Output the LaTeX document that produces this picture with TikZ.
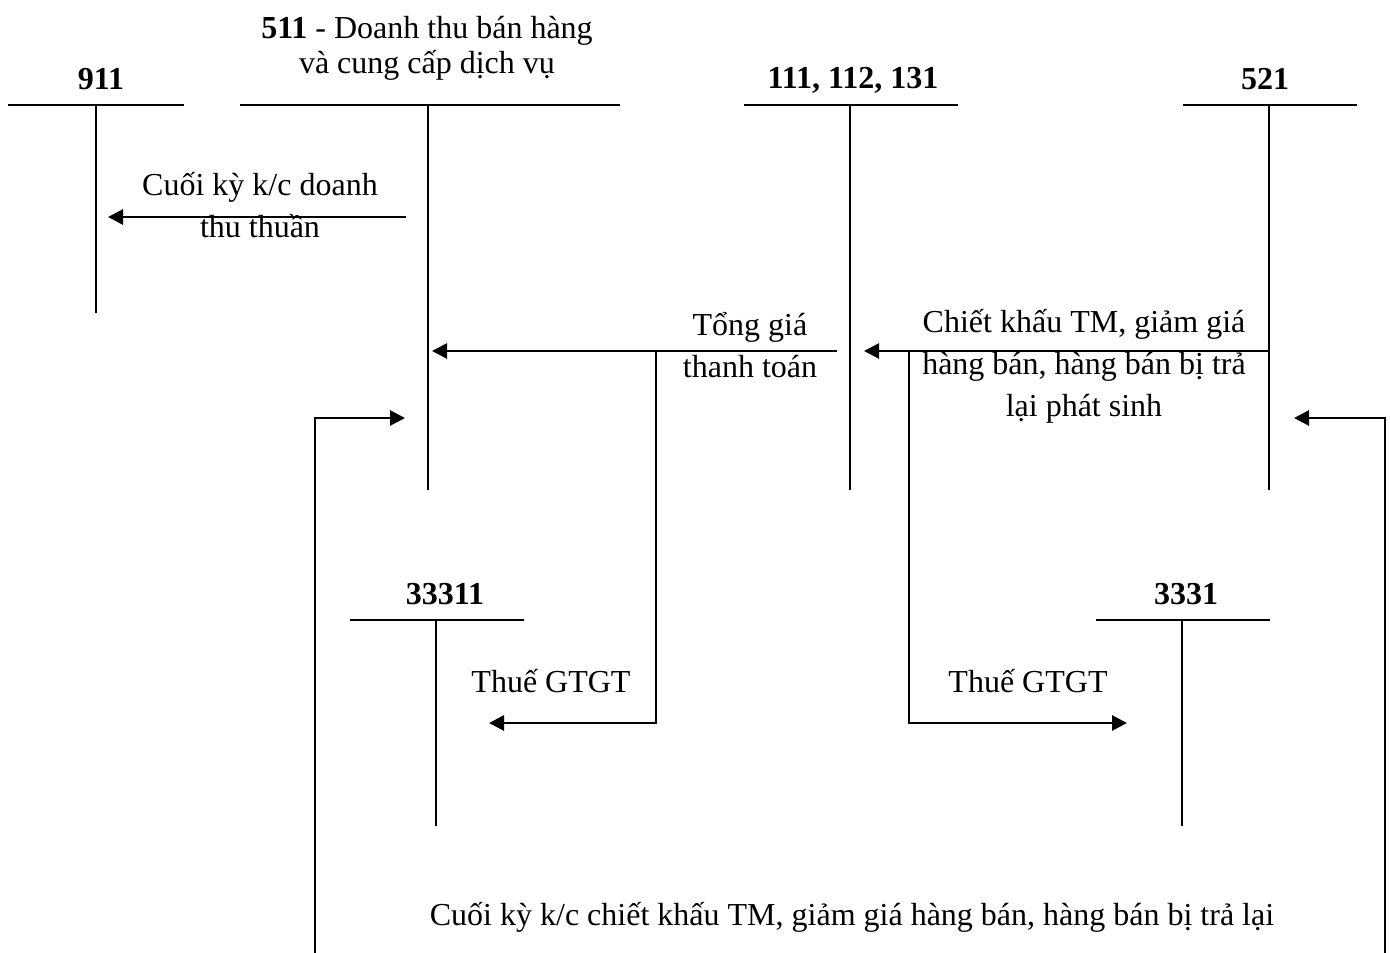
\documentclass[tikz,border=0pt]{standalone}
\usepackage{fontspec}
\setmainfont{Liberation Serif}
\usetikzlibrary{arrows.meta}
\begin{document}
\begin{tikzpicture}[x=0.5pt,y=-0.5pt,
  tline/.style={line width=0.8pt},
  flow/.style={line width=1.4pt},
  tip/.tip={Triangle[length=7.5pt,width=7.5pt]},
  arr/.style={flow,-tip},
  lbl/.style={font=\fontsize{16}{21}\selectfont,align=center,inner sep=0pt},
  acct/.style={font=\fontsize{16}{21}\selectfont\bfseries,inner sep=0pt}]
\useasboundingbox (0,0) rectangle (1390,952);
% account labels
\node[acct] (l911) at (101,79) {911};
\node[lbl,font=\fontsize{16}{17.5}\selectfont] (l511) at (427,48) {\textbf{511} - Doanh thu bán hàng\\và cung cấp dịch vụ};
\node[acct] (l111) at (853,80) {111, 112, 131};
\node[acct] (l521) at (1265,79) {521};
\node[acct] (l33311) at (445,594) {33311};
\node[acct] (l3331) at (1186,594) {3331};
% T-accounts
\coordinate (a911L) at (8,105); \coordinate (a911R) at (184,105);
\coordinate (a911T) at (96,105); \coordinate (a911B) at (96,313);
\coordinate (a511L) at (240,105); \coordinate (a511R) at (620,105);
\coordinate (a511T) at (428,105); \coordinate (a511B) at (428,490);
\coordinate (a111L) at (744,105); \coordinate (a111R) at (958,105);
\coordinate (a111T) at (850,105); \coordinate (a111B) at (850,490);
\coordinate (a521L) at (1183,105); \coordinate (a521R) at (1357,105);
\coordinate (a521T) at (1269,105); \coordinate (a521B) at (1269,490);
\coordinate (a33311L) at (350,620); \coordinate (a33311R) at (524,620);
\coordinate (a33311T) at (436,620); \coordinate (a33311B) at (436,826);
\coordinate (a3331L) at (1096,620); \coordinate (a3331R) at (1270,620);
\coordinate (a3331T) at (1182,620); \coordinate (a3331B) at (1182,826);
\foreach \a in {911,511,111,521,33311,3331}{
  \draw[tline] (a\a L) -- (a\a R);
  \draw[tline] (a\a T) -- (a\a B);
}
% flows
\coordinate (f1s) at (406,217); \coordinate (f1e) at (108,217);
\draw[arr] (f1s) -- (f1e);
\coordinate (f2s) at (837,351); \coordinate (f2e) at (432,351);
\draw[arr] (f2s) -- (f2e);
\coordinate (f3s) at (656,351); \coordinate (f3e) at (489,723);
\draw[arr] (f3s) |- (f3e);
\coordinate (f4s) at (1269,351); \coordinate (f4e) at (864,351);
\draw[arr] (f4s) -- (f4e);
\coordinate (f5s) at (909,351); \coordinate (f5e) at (1127,723);
\draw[arr] (f5s) |- (f5e);
\coordinate (f6a) at (405,418); \coordinate (f6b) at (315,418);
\coordinate (f6c) at (315,962); \coordinate (f6d) at (1385,962);
\coordinate (f6e) at (1385,418); \coordinate (f6f) at (1294,418);
\draw[flow,tip-tip] (f6a) -- (f6b) -- (f6c) -- (f6d) -- (f6e) -- (f6f);
% labels
\node[lbl] (t1) at (260,205) {Cuối kỳ k/c doanh\\thu thuần};
\node[lbl] (t2) at (750,345) {Tổng giá\\thanh toán};
\node[lbl] (t3) at (1084,366) {Chiết khấu TM, giảm giá\\hàng bán, hàng bán bị trả\\lại phát sinh};
\node[lbl] (t4) at (551,681) {Thuế GTGT};
\node[lbl] (t5) at (1028,681) {Thuế GTGT};
\node[lbl] (t6) at (852,917) {Cuối kỳ k/c chiết khấu TM, giảm giá hàng bán, hàng bán bị trả lại};
\end{tikzpicture}
\end{document}
